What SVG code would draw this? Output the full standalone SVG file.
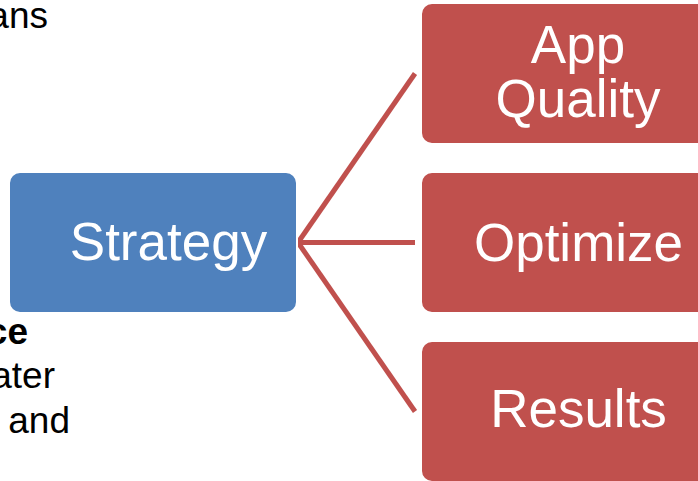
<svg xmlns="http://www.w3.org/2000/svg" width="698" height="481" viewBox="0 0 698 481">
  <style>
    .lbl { font-family: "Liberation Sans", Arial, sans-serif; font-size: 53px; fill: #ffffff; text-anchor: middle; }
    .side { font-family: "Liberation Sans", Arial, sans-serif; font-size: 37px; fill: #000000; text-anchor: end; }
    .blue { fill: #4F81BD; stroke: #ffffff; stroke-width: 2; }
    .red { fill: #C0504D; stroke: #ffffff; stroke-width: 2; }
    .link { stroke: #C0504D; stroke-width: 5; fill: none; }
  </style>
  <rect width="698" height="481" fill="#ffffff"/>

  <!-- clipped body text at the left edge -->
  <g id="side-text">
    <text class="side" x="48" y="28">ans</text>
    <text class="side" x="28" y="344" font-weight="bold">ce</text>
    <text class="side" x="55" y="388">ater</text>
    <text class="side" x="70" y="433">and</text>
  </g>

  <g id="connectors">
    <line class="link" x1="298" y1="242.5" x2="415" y2="73.5"/>
    <line class="link" x1="298" y1="242.5" x2="415" y2="242.5"/>
    <line class="link" x1="298" y1="242.5" x2="415" y2="411.5"/>
  </g>

  <g id="strategy">
    <rect class="blue" x="9" y="172" width="288" height="141" rx="11"/>
    <text class="lbl" x="168.5" y="260">Strategy</text>
  </g>

  <g id="app-quality">
    <rect class="red" x="421" y="3" width="288" height="141" rx="11"/>
    <text class="lbl" x="578" y="63">App</text>
    <text class="lbl" x="578" y="117">Quality</text>
  </g>

  <g id="optimize">
    <rect class="red" x="421" y="172" width="288" height="141" rx="11"/>
    <text class="lbl" x="578.5" y="261">Optimize</text>
  </g>

  <g id="results">
    <rect class="red" x="421" y="341" width="288" height="141" rx="11"/>
    <text class="lbl" x="578.5" y="427">Results</text>
  </g>
</svg>
